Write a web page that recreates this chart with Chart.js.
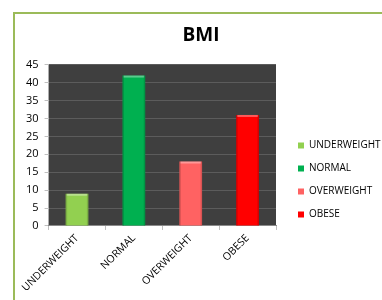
<!DOCTYPE html>
<html><head><meta charset="utf-8">
<script src="https://cdn.jsdelivr.net/npm/chart.js@4/dist/chart.umd.min.js"></script>
<style>
html,body{margin:0;padding:0;background:#fff;}
#wrap{position:relative;width:382px;height:300px;overflow:hidden;}
#frame{position:absolute;left:13px;top:12px;width:400px;height:320px;border:2px solid #9bbb59;box-sizing:border-box;}
canvas{position:absolute;left:0;top:0;}
</style></head>
<body><div id="wrap"><div id="frame"></div><canvas id="c" width="382" height="300"></canvas></div>
<script>
const categories = ["UNDERWEIGHT","NORMAL","OVERWEIGHT","OBESE"];
const values = [9, 42, 18, 31];
const barColors = ["#92d050","#00b050","#ff6262","#ff0000"];
const yTicks = [0,5,10,15,20,25,30,35,40,45];
const titleText = "BMI";

const plotBg = {
  id:'plotBg',
  beforeDraw(chart){
    const {ctx, chartArea:a} = chart;
    ctx.save(); ctx.fillStyle = '#3f3f3f';
    ctx.fillRect(a.left, a.top, a.right-a.left, a.bottom-a.top);
    ctx.restore();
  }
};
const bevel = {
  id:'bevel',
  afterDatasetsDraw(chart){
    const ctx = chart.ctx;
    chart.getDatasetMeta(0).data.forEach(el=>{
      const l = el.x - el.width/2, w = el.width, t = el.y, h = el.base - el.y;
      ctx.save();
      ctx.fillStyle = 'rgba(255,255,255,0.35)';
      ctx.fillRect(l+1, t, w-2, 2);
      ctx.fillStyle = 'rgba(0,0,0,0.15)';
      ctx.fillRect(l, t, 1.5, h);
      ctx.fillRect(l+w-1.5, t, 1.5, h);
      ctx.restore();
    });
  }
};
// legend box geometry: reserve a fixed width on the right and nudge its contents
const legendPlace = {
  id:'legendPlace',
  beforeLayout(chart){
    const lg = chart.legend;
    if (!lg || lg._placed) return;
    lg._placed = true;
    const origFit = lg.fit, origDraw = lg.draw;
    lg.fit = function(){ origFit.call(this); this.width = 106; };
    lg.draw = function(){
      const ctx = this.ctx; ctx.save(); ctx.translate(9, 20); origDraw.call(this); ctx.restore();
    };
  }
};

new Chart(document.getElementById('c'), {
  type:'bar',
  data:{labels:categories, datasets:[{label:titleText, data:values, backgroundColor:barColors,
    borderWidth:0, barPercentage:0.4, categoryPercentage:1}]},
  options:{
    responsive:false, animation:false,
    layout:{padding:{left:20,top:24,right:0,bottom:4}},
    plugins:{
      title:{display:true, text:titleText, color:'#000', font:{family:'Open Sans', size:19, weight:'bold'}, padding:{top:0,bottom:18}},
      legend:{display:true, position:'right',
        labels:{boxWidth:6, boxHeight:6, padding:13, color:'#000', font:{family:'Open Sans', size:10},
          generateLabels:()=>categories.map((c,i)=>({text:c, fillStyle:barColors[i], strokeStyle:barColors[i], lineWidth:0, index:i}))}},
      tooltip:{enabled:false}
    },
    scales:{
      x:{grid:{display:true, drawOnChartArea:false, drawTicks:true, tickLength:4, color:'#bfbfbf'},
        border:{color:'#8a8a8a'},
        ticks:{minRotation:45, maxRotation:45, color:'#000', font:{family:'Open Sans', size:10.5}, padding:2}},
      y:{min:0, max:45, afterBuildTicks:(s)=>{s.ticks = yTicks.map(v=>({value:v}));},
        grid:{color:'#5c5c5c', tickColor:'#bfbfbf', tickLength:4, drawTicks:true},
        border:{display:false},
        ticks:{color:'#000', font:{family:'Open Sans', size:11}, padding:6}}
    }
  },
  plugins:[plotBg, bevel, legendPlace]
});
</script></body></html>
